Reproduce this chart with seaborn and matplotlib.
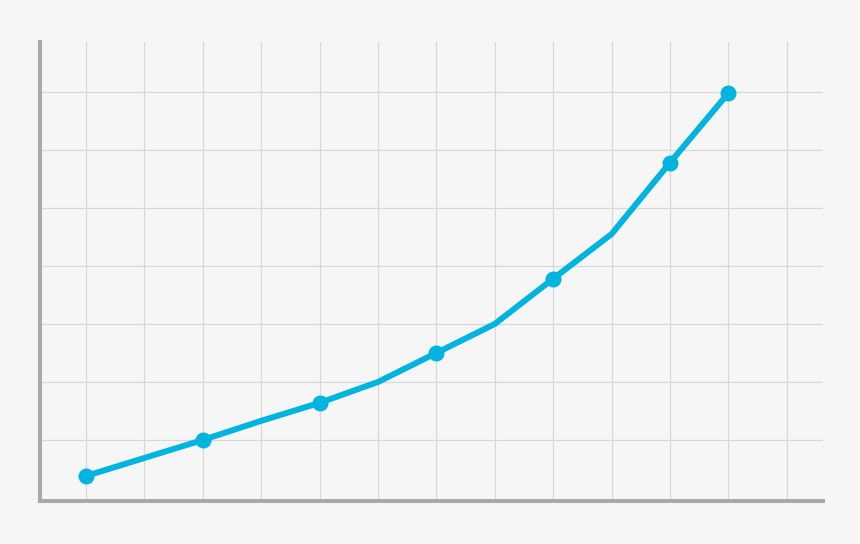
import pandas as pd
import seaborn as sns
import matplotlib.pyplot as plt

# values (grid unit = 1)
steps = list(range(12))
values = [0.38, 0.69, 1.0, 1.33, 1.64, 2.0, 2.5, 3.0, 3.78, 4.55, 5.78, 6.98]
marked = [0, 2, 4, 6, 8, 10, 11]

df = pd.DataFrame({'step': steps, 'value': values})

sns.set_theme(style='whitegrid')
bg = '#f6f6f6'
fig = plt.figure(figsize=(8.6, 5.44), dpi=100, facecolor=bg)
ax = fig.add_axes([40 / 860, (544 - 500.5) / 544, (823 - 40) / 860, (500.5 - 42) / 544])
ax.set_facecolor(bg)

sns.lineplot(
    x='step',
    y='value',
    data=df,
    ax=ax,
    color='#00b4e0',
    linewidth=4.3,
    marker='o',
    markersize=11.5,
    markeredgewidth=0,
    markevery=marked,
    solid_capstyle='butt',
    zorder=3,
)

ax.set_xlim(-0.787, 12.62)
ax.set_ylim(-0.043, 7.86)
ax.set_xticks(range(13))
ax.set_yticks(range(1, 8))
ax.tick_params(length=0, labelbottom=False, labelleft=False)
ax.set_xlabel('')
ax.set_ylabel('')
ax.grid(True, color='#d8d8d8', linewidth=0.9)

for side in ['top', 'right']:
    ax.spines[side].set_visible(False)
for side in ['left', 'bottom']:
    ax.spines[side].set_color('#a9a9a9')
    ax.spines[side].set_linewidth(2.9)
    ax.spines[side].set_capstyle('projecting')

fig.savefig('out.png', dpi=100, facecolor=bg)
